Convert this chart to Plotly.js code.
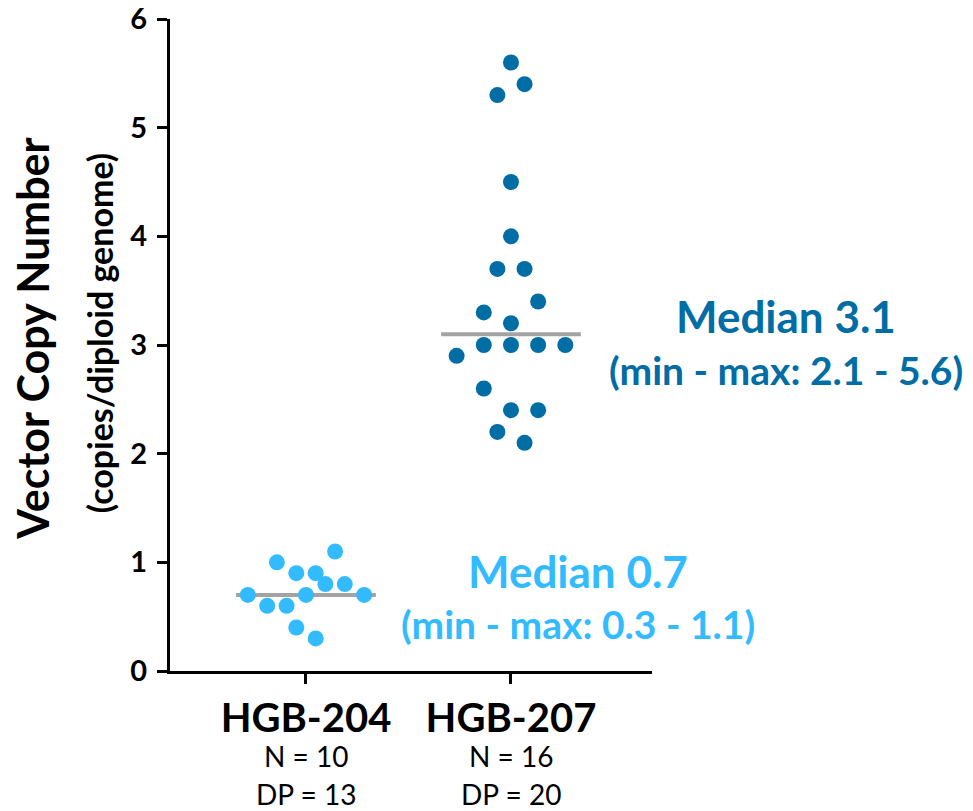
<!DOCTYPE html>
<html>
<head>
<meta charset="utf-8">
<script src="https://cdn.plot.ly/plotly-3.0.1.min.js"></script>
<style>html,body{margin:0;padding:0;background:#fff;}#chart{width:973px;height:811px;}</style>
</head>
<body>
<div id="chart"></div>
<script>
// ---- data ----
const groups = ['HGB-204', 'HGB-207'];
const groupN = [10, 16];
const groupDP = [13, 20];
const hgb204Values = [1.0, 1.1, 0.9, 0.9, 0.8, 0.8, 0.7, 0.7, 0.7, 0.6, 0.6, 0.4, 0.3];
const hgb204Slots  = [-3, 3, -1, 1, 2, 4, -6, 0, 6, -4, -2, -1, 1];
const hgb207Values = [5.6, 5.4, 5.3, 4.5, 4.0, 3.7, 3.7, 3.4, 3.3, 3.2, 3.0, 3.0, 3.0, 3.0, 2.9, 2.6, 2.4, 2.4, 2.2, 2.1];
const hgb207Slots  = [0, 1, -1, 0, 0, -1, 1, 2, -2, 0, -2, 0, 2, 4, -4, -2, 0, 2, -1, 1];
const medians = [0.7, 3.1];
const mins = [0.3, 2.1];
const maxs = [1.1, 5.6];

// ---- styling ----
const FONT = 'Lato, "Open Sans", sans-serif';
const colors = ['#33BBFF', '#006DA5'];
const slotStep = [0.0473, 0.0663];
const medianHalf = 0.341;

const values = [hgb204Values, hgb207Values];
const slots = [hgb204Slots, hgb207Slots];

const traces = [];
for (let g = 0; g < groups.length; g++) {
  traces.push({
    type: 'scatter', mode: 'lines',
    x: [g - medianHalf, g + medianHalf],
    y: [medians[g], medians[g]],
    line: {color: '#A3A3A3', width: 4},
    hoverinfo: 'skip', showlegend: false
  });
}
for (let g = 0; g < groups.length; g++) {
  traces.push({
    type: 'scatter', mode: 'markers', name: groups[g],
    x: slots[g].map(s => g + s * slotStep[g]),
    y: values[g],
    marker: {color: colors[g], size: 16, line: {width: 0}},
    showlegend: false, cliponaxis: false
  });
}

const annotations = [];
// y-axis titles
annotations.push({
  text: '<b>Vector Copy Number</b>', textangle: -90, showarrow: false,
  xref: 'paper', yref: 'y', x: -0.286, y: 3.06, xanchor: 'center', yanchor: 'middle',
  font: {family: FONT, size: 43, color: '#000'}
});
annotations.push({
  text: '<b>(copies/diploid genome)</b>', textangle: -90, showarrow: false,
  xref: 'paper', yref: 'y', x: -0.147, y: 3.11, xanchor: 'center', yanchor: 'middle',
  font: {family: FONT, size: 34, color: '#000'}
});
// N and DP lines under categories
for (let g = 0; g < groups.length; g++) {
  annotations.push({
    text: 'N = ' + groupN[g], showarrow: false, xref: 'x', yref: 'paper',
    x: g, y: -0.131, xanchor: 'center', yanchor: 'middle',
    font: {family: FONT, size: 28, color: '#000'}
  });
  annotations.push({
    text: 'DP = ' + groupDP[g], showarrow: false, xref: 'x', yref: 'paper',
    x: g, y: -0.188, xanchor: 'center', yanchor: 'middle',
    font: {family: FONT, size: 28, color: '#000'}
  });
}
// median labels
const medLabelX = [0.846, 1.278];
const medLabelY1 = [0.917, 3.27];
const medLabelY2 = [0.435, 2.77];
for (let g = 0; g < groups.length; g++) {
  annotations.push({
    text: '<b>Median ' + medians[g].toFixed(1) + '</b>', showarrow: false,
    xref: 'paper', yref: 'y', x: medLabelX[g], y: medLabelY1[g], xanchor: 'center', yanchor: 'middle',
    font: {family: FONT, size: 44, color: colors[g]}
  });
  annotations.push({
    text: '<b>(min - max: ' + mins[g].toFixed(1) + ' - ' + maxs[g].toFixed(1) + ')</b>', showarrow: false,
    xref: 'paper', yref: 'y', x: medLabelX[g], y: medLabelY2[g], xanchor: 'center', yanchor: 'middle',
    font: {family: FONT, size: 39, color: colors[g]}
  });
}

const layout = {
  width: 973, height: 811,
  margin: {l: 170, r: 321, t: 19, b: 140, pad: 0},
  paper_bgcolor: '#fff', plot_bgcolor: '#fff',
  font: {family: FONT, color: '#000'},
  showlegend: false,
  xaxis: {
    range: [-0.6634, 1.688], tickvals: [0, 1],
    ticktext: groups.map(s => '<b>' + s + '</b>'),
    tickfont: {family: FONT, size: 40, color: '#000'},
    ticks: 'outside', ticklen: 10, tickwidth: 3, tickcolor: '#000',
    showline: true, linecolor: '#000', linewidth: 3,
    showgrid: false, zeroline: false, fixedrange: true
  },
  yaxis: {
    range: [0, 6], tickvals: [0, 1, 2, 3, 4, 5, 6],
    ticktext: ['0','1','2','3','4','5','6'].map(s => '<b>' + s + '</b>'),
    tickfont: {family: FONT, size: 29, color: '#000'},
    ticks: 'outside', ticklen: 10, tickwidth: 3, tickcolor: '#000',
    ticklabelstandoff: 4,
    showline: true, linecolor: '#000', linewidth: 3,
    showgrid: false, zeroline: false, fixedrange: true
  },
  annotations: annotations
};

Plotly.newPlot('chart', traces, layout, {staticPlot: true, displayModeBar: false});
</script>
</body>
</html>
